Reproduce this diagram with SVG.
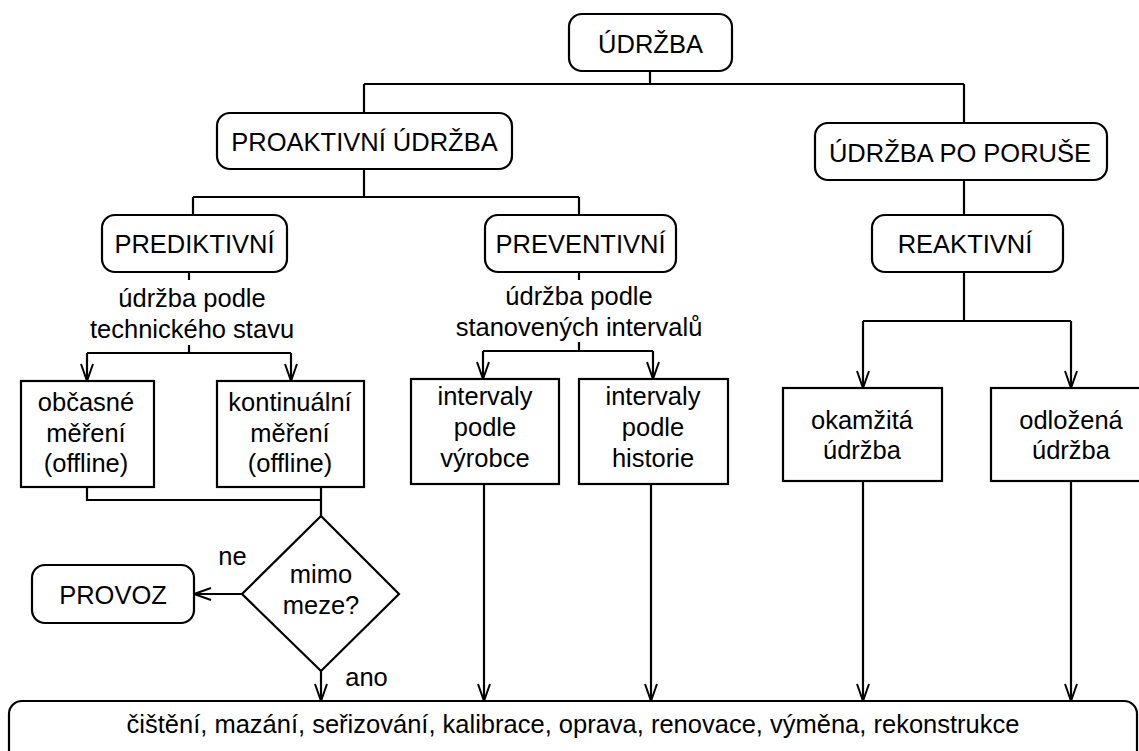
<svg xmlns="http://www.w3.org/2000/svg" width="1139" height="751" viewBox="0 0 1139 751">
  <defs>
    <style>
      .box { fill: #ffffff; stroke: #000000; stroke-width: 2.2; }
      .ln { fill: none; stroke: #000000; stroke-width: 2.2; }
      .t { font-family: "Liberation Sans", Arial, sans-serif; font-size: 25.5px; fill: #000000; text-anchor: middle; }
    </style>
    <marker id="arr" markerUnits="userSpaceOnUse" markerWidth="20" markerHeight="14" refX="17" refY="6" orient="auto" overflow="visible">
      <path d="M0,0 L17,6 L0,12" fill="none" stroke="#000000" stroke-width="2"/>
    </marker>
  </defs>
  <rect width="1139" height="751" fill="#ffffff"/>

  <!-- connectors -->
  <g id="connectors" class="ln">
    <path class="ln" d="M650,71 V84 M364,84 H964 M364,84 V113 M964,84 V123"/>
    <path class="ln" d="M364,169 V197 M193,197 H579 M193,197 V215 M579,197 V215"/>
    <path class="ln" d="M964,180 V215"/>
    <path class="ln" d="M189,271 V280 M189,345 V353 M87,353 H291"/>
    <path class="ln" d="M87,353 V381" marker-end="url(#arr)"/>
    <path class="ln" d="M291,353 V381" marker-end="url(#arr)"/>
    <path class="ln" d="M579,271 V280 M579,342 V351 M483,351 H653"/>
    <path class="ln" d="M483,351 V379" marker-end="url(#arr)"/>
    <path class="ln" d="M653,351 V379" marker-end="url(#arr)"/>
    <path class="ln" d="M964,271 V321 M863,321 H1071"/>
    <path class="ln" d="M863,321 V388" marker-end="url(#arr)"/>
    <path class="ln" d="M1071,321 V388" marker-end="url(#arr)"/>
    <path class="ln" d="M87,487 V500 H321 M321,487 V516"/>
    <path class="ln" d="M242,594 H194" marker-end="url(#arr)"/>
    <path class="ln" d="M321,671 V701" marker-end="url(#arr)"/>
    <path class="ln" d="M484,484 V701" marker-end="url(#arr)"/>
    <path class="ln" d="M651,484 V701" marker-end="url(#arr)"/>
    <path class="ln" d="M863,481 V701" marker-end="url(#arr)"/>
    <path class="ln" d="M1071,481 V701" marker-end="url(#arr)"/>
  </g>

  <g id="udrzba">
    <rect class="box" x="569" y="14" width="163" height="57" rx="13"/>
    <text class="t" x="650.5" y="53">ÚDRŽBA</text>
  </g>
  <g id="proaktivni">
    <rect class="box" x="217" y="113" width="295" height="56" rx="13"/>
    <text class="t" x="364.5" y="151">PROAKTIVNÍ ÚDRŽBA</text>
  </g>
  <g id="po-poruse">
    <rect class="box" x="815" y="123" width="292" height="57" rx="13"/>
    <text class="t" x="960" y="162">ÚDRŽBA PO PORUŠE</text>
  </g>
  <g id="prediktivni">
    <rect class="box" x="102" y="215" width="185" height="57" rx="13"/>
    <text class="t" x="194.5" y="253">PREDIKTIVNÍ</text>
  </g>
  <g id="preventivni">
    <rect class="box" x="485" y="215" width="191" height="57" rx="13"/>
    <text class="t" x="580.5" y="253">PREVENTIVNÍ</text>
  </g>
  <g id="reaktivni">
    <rect class="box" x="872" y="215" width="191" height="57" rx="13"/>
    <text class="t" x="965" y="253">REAKTIVNÍ</text>
  </g>

  <g id="popis-prediktivni">
    <text class="t" x="192" y="307">údržba podle</text>
    <text class="t" x="192" y="338">technického stavu</text>
  </g>
  <g id="popis-preventivni">
    <text class="t" x="579" y="305">údržba podle</text>
    <text class="t" x="579" y="336">stanovených intervalů</text>
  </g>

  <g id="obcasne">
    <rect class="box" x="21" y="381" width="133" height="106"/>
    <text class="t" x="86" y="411">občasné</text>
    <text class="t" x="86" y="442">měření</text>
    <text class="t" x="86" y="472">(offline)</text>
  </g>
  <g id="kontinualni">
    <rect class="box" x="217" y="381" width="147" height="106"/>
    <text class="t" x="290" y="411">kontinuální</text>
    <text class="t" x="290" y="442">měření</text>
    <text class="t" x="290" y="472">(offline)</text>
  </g>
  <g id="vyrobce">
    <rect class="box" x="411" y="379" width="148" height="105"/>
    <text class="t" x="485" y="405">intervaly</text>
    <text class="t" x="485" y="436">podle</text>
    <text class="t" x="485" y="467">výrobce</text>
  </g>
  <g id="historie">
    <rect class="box" x="579" y="379" width="149" height="105"/>
    <text class="t" x="653" y="405">intervaly</text>
    <text class="t" x="653" y="436">podle</text>
    <text class="t" x="653" y="467">historie</text>
  </g>
  <g id="okamzita">
    <rect class="box" x="783" y="388" width="159" height="93"/>
    <text class="t" x="862" y="429">okamžitá</text>
    <text class="t" x="862" y="459">údržba</text>
  </g>
  <g id="odlozena">
    <rect class="box" x="991" y="388" width="160" height="93"/>
    <text class="t" x="1071" y="429">odložená</text>
    <text class="t" x="1071" y="459">údržba</text>
  </g>

  <g id="mimo-meze">
    <polygon class="box" points="321,516 399,594 321,671 242,594"/>
    <text class="t" x="321" y="583">mimo</text>
    <text class="t" x="321" y="614">meze?</text>
  </g>
  <g id="provoz">
    <rect class="box" x="32" y="565" width="162" height="58" rx="13"/>
    <text class="t" x="113" y="604">PROVOZ</text>
  </g>
  <g id="vetve">
    <text class="t" x="232.5" y="565">ne</text>
    <text class="t" x="366.5" y="686">ano</text>
  </g>

  <g id="cinnosti">
    <rect class="box" x="9" y="701" width="1128" height="80" rx="13"/>
    <text class="t" x="573" y="733">čištění, mazání, seřizování, kalibrace, oprava, renovace, výměna, rekonstrukce</text>
  </g>
</svg>
